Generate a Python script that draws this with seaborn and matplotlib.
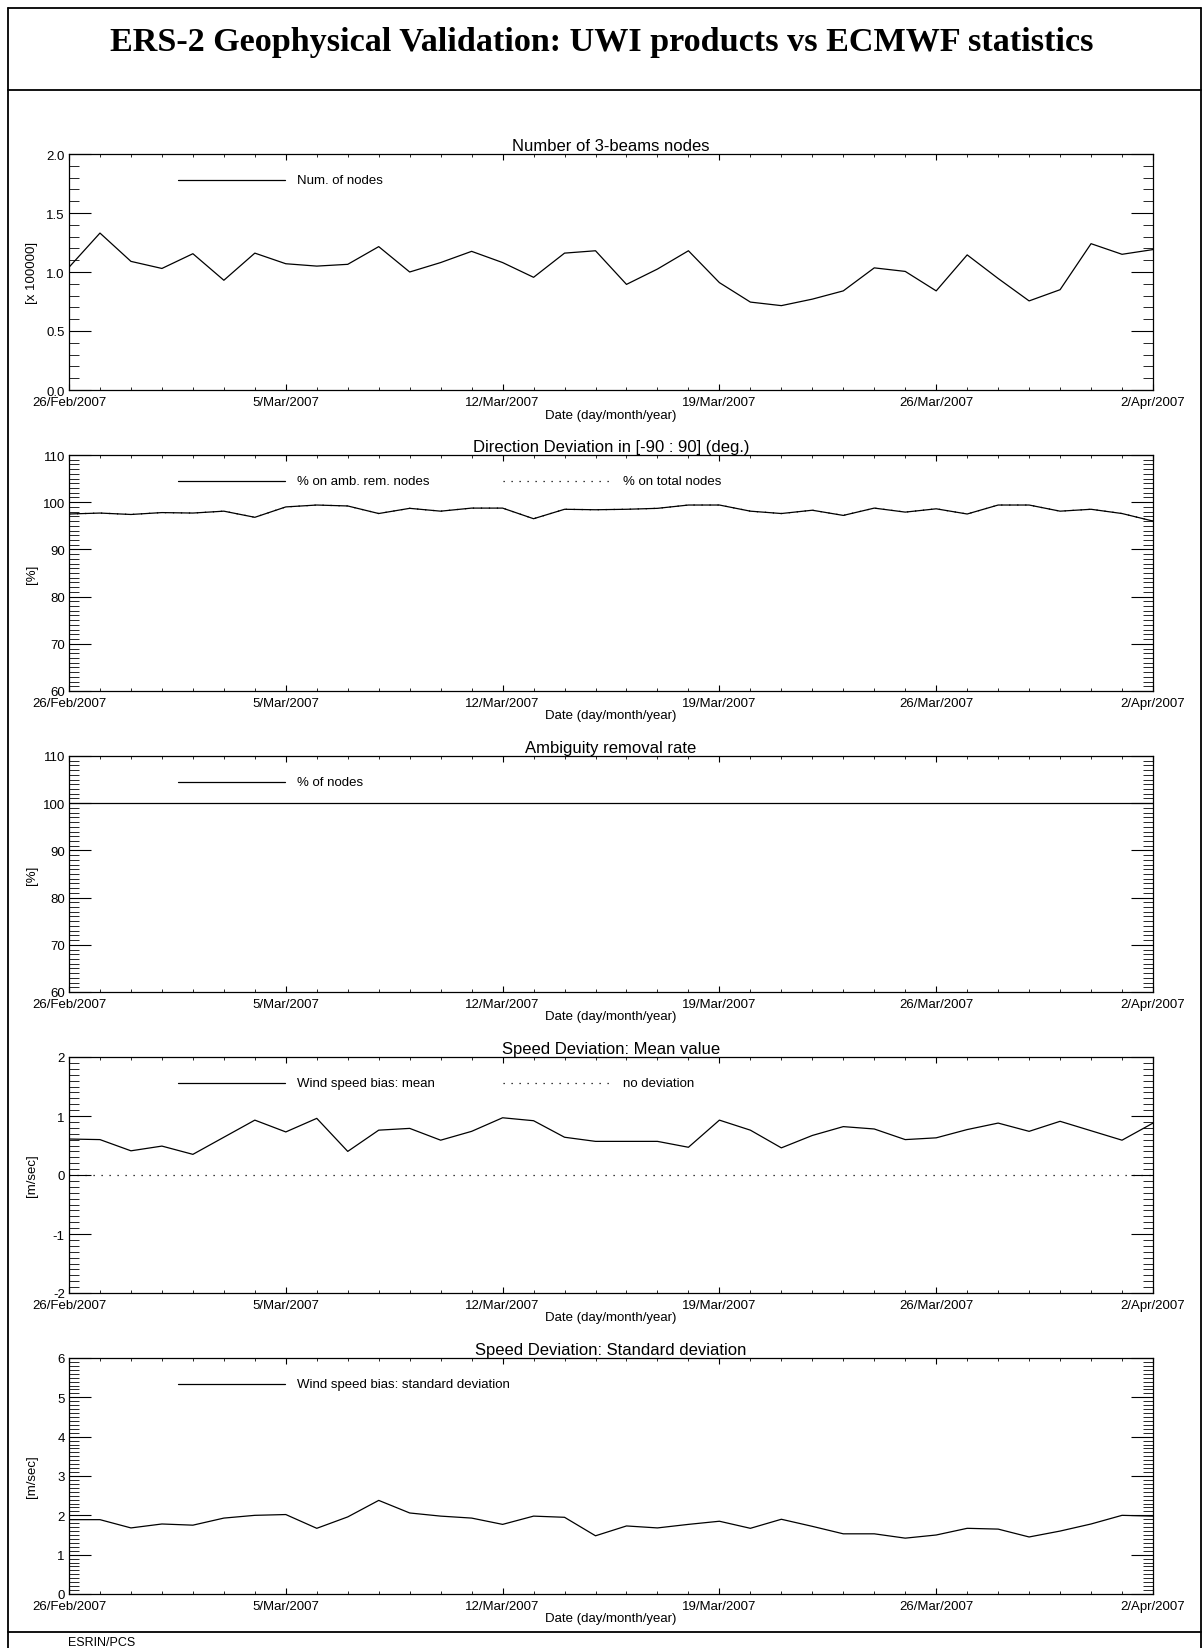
import matplotlib
matplotlib.use("Agg")
import numpy as np
import pandas as pd
import seaborn as sns
import matplotlib.pyplot as plt
import matplotlib.dates as mdates
from matplotlib.lines import Line2D
from matplotlib.ticker import MultipleLocator, FixedLocator, FixedFormatter, FormatStrFormatter

# ---------------- data ----------------
dates = pd.date_range("2007-02-26", "2007-04-02", freq="D")

num_nodes = [1.04, 1.33, 1.09, 1.03, 1.155, 0.93, 1.16, 1.07, 1.05, 1.065,
             1.215, 1.00, 1.08, 1.175, 1.08, 0.955, 1.16, 1.18, 0.895, 1.025,
             1.18, 0.91, 0.745, 0.715, 0.77, 0.84, 1.035, 1.005, 0.84, 1.145,
             0.945, 0.755, 0.85, 1.24, 1.15, 1.19]

dir_amb_nodes = [97.5, 97.7, 97.4, 97.8, 97.7, 98.1, 96.8, 99.0, 99.4, 99.2,
                 97.6, 98.7, 98.1, 98.75, 98.75, 96.5, 98.5, 98.4, 98.5, 98.7,
                 99.4, 99.4, 98.1, 97.6, 98.3, 97.2, 98.75, 97.9, 98.6, 97.5,
                 99.4, 99.4, 98.1, 98.5, 97.6, 96.0]

dir_total_nodes = [97.5, 97.7, 97.4, 97.8, 97.7, 98.1, 96.8, 99.0, 99.4, 99.2,
                   97.6, 98.7, 98.1, 98.75, 98.75, 96.5, 98.5, 98.4, 98.5, 98.7,
                   99.4, 99.4, 98.1, 97.6, 98.3, 97.2, 98.75, 97.9, 98.6, 97.5,
                   99.4, 99.4, 98.1, 98.5, 97.6, 96.0]

amb_removal = [100.0, 100.0, 100.0, 100.0, 100.0, 100.0, 100.0, 100.0, 100.0, 100.0,
               100.0, 100.0, 100.0, 100.0, 100.0, 100.0, 100.0, 100.0, 100.0, 100.0,
               100.0, 100.0, 100.0, 100.0, 100.0, 100.0, 100.0, 100.0, 100.0, 100.0,
               100.0, 100.0, 100.0, 100.0, 100.0, 100.0]

speed_mean = [0.61, 0.60, 0.41, 0.49, 0.35, 0.64, 0.93, 0.73, 0.96, 0.40,
              0.76, 0.79, 0.59, 0.74, 0.97, 0.92, 0.64, 0.57, 0.57, 0.57,
              0.47, 0.93, 0.76, 0.46, 0.67, 0.82, 0.78, 0.60, 0.63, 0.77,
              0.88, 0.74, 0.91, 0.75, 0.59, 0.88]

no_deviation = [0.0, 0.0, 0.0, 0.0, 0.0, 0.0, 0.0, 0.0, 0.0, 0.0,
                0.0, 0.0, 0.0, 0.0, 0.0, 0.0, 0.0, 0.0, 0.0, 0.0,
                0.0, 0.0, 0.0, 0.0, 0.0, 0.0, 0.0, 0.0, 0.0, 0.0,
                0.0, 0.0, 0.0, 0.0, 0.0, 0.0]

speed_std = [1.89, 1.89, 1.68, 1.78, 1.75, 1.93, 2.00, 2.02, 1.67, 1.96,
             2.38, 2.06, 1.98, 1.93, 1.77, 1.98, 1.95, 1.48, 1.73, 1.68,
             1.77, 1.85, 1.67, 1.90, 1.72, 1.53, 1.53, 1.42, 1.50, 1.67,
             1.65, 1.45, 1.60, 1.78, 2.00, 1.98]

tick_dates = ["2007-02-26", "2007-03-05", "2007-03-12", "2007-03-19",
              "2007-03-26", "2007-04-02"]
tick_labels = ["26/Feb/2007", "5/Mar/2007", "12/Mar/2007", "19/Mar/2007",
               "26/Mar/2007", "2/Apr/2007"]

main_title = "ERS-2 Geophysical Validation: UWI products vs ECMWF statistics"
panel_titles = ["Number of 3-beams nodes",
                "Direction Deviation in [-90 : 90] (deg.)",
                "Ambiguity removal rate",
                "Speed Deviation: Mean value",
                "Speed Deviation: Standard deviation"]
y_labels = ["[x 100000]", "[%]", "[%]", "[m/sec]", "[m/sec]"]
solid_series = [num_nodes, dir_amb_nodes, amb_removal, speed_mean, speed_std]
dotted_series = [None, dir_total_nodes, None, no_deviation, None]
solid_names = ["Num. of nodes", "% on amb. rem. nodes", "% of nodes",
               "Wind speed bias: mean", "Wind speed bias: standard deviation"]
dotted_names = [None, "% on total nodes", None, "no deviation", None]

# ---------------- style / layout ----------------
y_limits = [(0.0, 2.0), (60, 110), (60, 110), (-2, 2), (0, 6)]
y_major = [0.5, 10, 10, 1, 1]
y_minor = [0.1, 1, 1, 0.1, 0.1]

sns.set_theme(style="ticks")
plt.rcParams["font.family"] = ["Liberation Sans", "DejaVu Sans"]
plt.rcParams["axes.unicode_minus"] = False
plt.rcParams["axes.linewidth"] = 0.9
plt.rcParams["axes.edgecolor"] = "black"

W, H = 1203, 1649
fig = plt.figure(figsize=(W / 100, H / 100), dpi=100)
fig.patch.set_facecolor("white")

def fx(x):
    return x / W

def fy(y):
    return 1 - y / H

# frame
frame_kw = dict(color="black", lw=1.3, transform=fig.transFigure)
fig.add_artist(Line2D([fx(8), fx(8)], [fy(9), fy(H + 5)], **frame_kw))
fig.add_artist(Line2D([fx(1201), fx(1201)], [fy(9), fy(H + 5)], **frame_kw))
fig.add_artist(Line2D([fx(8), fx(1201)], [fy(9), fy(9)], **frame_kw))
fig.add_artist(Line2D([fx(8), fx(1201)], [fy(91), fy(91)], **frame_kw))
fig.add_artist(Line2D([fx(8), fx(1201)], [fy(1633), fy(1633)], **frame_kw))

t = fig.text(fx(602), fy(51), main_title, ha="center", va="baseline",
             fontfamily=["Liberation Serif", "DejaVu Serif"], fontweight="bold",
             fontsize=24, color="black")
fig.canvas.draw()
w = t.get_window_extent().width
t.set_fontsize(24 * 984 / w)

fig.text(fx(68), fy(1643), "ESRIN/PCS", ha="left", va="center", fontsize=9, color="black")

ax_left, ax_right = 69, 1153
ax_h = 236
tops = [155, 456, 757, 1058, 1359]

xnum = mdates.date2num(pd.to_datetime(tick_dates))
dotted_ls = (0, (1.0, 5.4))

for i in range(5):
    top = tops[i]
    ax = fig.add_axes([fx(ax_left), fy(top + ax_h), (ax_right - ax_left) / W, ax_h / H])
    ax.set_facecolor("white")
    df = pd.DataFrame({"date": dates, "value": solid_series[i]})
    if dotted_series[i] is not None:
        dfd = pd.DataFrame({"date": dates, "value": dotted_series[i]})
        sns.lineplot(data=dfd, x="date", y="value", ax=ax, color="black",
                     lw=0.9, linestyle=dotted_ls)
    sns.lineplot(data=df, x="date", y="value", ax=ax, color="black", lw=0.9)

    ax.set_xlim(dates[0], dates[-1])
    ax.set_ylim(*y_limits[i])
    ax.xaxis.set_major_locator(FixedLocator(xnum))
    ax.xaxis.set_major_formatter(FixedFormatter(tick_labels))
    ax.xaxis.set_minor_locator(mdates.DayLocator())
    ax.yaxis.set_major_locator(MultipleLocator(y_major[i]))
    ax.yaxis.set_minor_locator(MultipleLocator(y_minor[i]))
    if i == 0:
        ax.yaxis.set_major_formatter(FormatStrFormatter("%.1f"))

    ax.tick_params(axis="y", which="major", direction="in", length=15.5, width=0.8,
                   left=True, right=True, labelsize=9.5, pad=3, colors="black")
    ax.tick_params(axis="y", which="minor", direction="in", length=7.5, width=0.7,
                   left=True, right=True)
    ax.tick_params(axis="x", which="major", direction="in", length=4.5, width=0.8,
                   bottom=True, top=True, labelsize=9.5, pad=4.2, colors="black")
    ax.tick_params(axis="x", which="minor", direction="in", length=2.2, width=0.7,
                   bottom=True, top=True)
    for s in ax.spines.values():
        s.set_visible(True)
        s.set_color("black")
        s.set_linewidth(0.9)

    ax.set_title(panel_titles[i], fontsize=12, pad=3, color="black")
    ax.set_xlabel("Date (day/month/year)", fontsize=9.5, va="center", color="black")
    ax.xaxis.set_label_coords(0.5, -24.5 / ax_h)
    ax.set_ylabel(y_labels[i], fontsize=9.5, va="center", color="black")
    ax.yaxis.set_label_coords(-(ax_left - 32) / (ax_right - ax_left), 0.5)

    # legend (manual, IDL style)
    ly = 1 - 26 / ax_h
    xw = ax_right - ax_left
    ax.add_line(Line2D([(178 - ax_left) / xw, (285 - ax_left) / xw], [ly, ly],
                       transform=ax.transAxes, color="black", lw=0.9))
    ax.text((297 - ax_left) / xw, ly, solid_names[i], transform=ax.transAxes,
            ha="left", va="center", fontsize=9.5, color="black")
    if dotted_names[i] is not None:
        ax.add_line(Line2D([(503 - ax_left) / xw, (612 - ax_left) / xw], [ly, ly],
                           transform=ax.transAxes, color="black", lw=0.9,
                           linestyle=dotted_ls))
        ax.text((623 - ax_left) / xw, ly, dotted_names[i], transform=ax.transAxes,
                ha="left", va="center", fontsize=9.5, color="black")

fig.savefig("out.png", dpi=100, facecolor="white")
